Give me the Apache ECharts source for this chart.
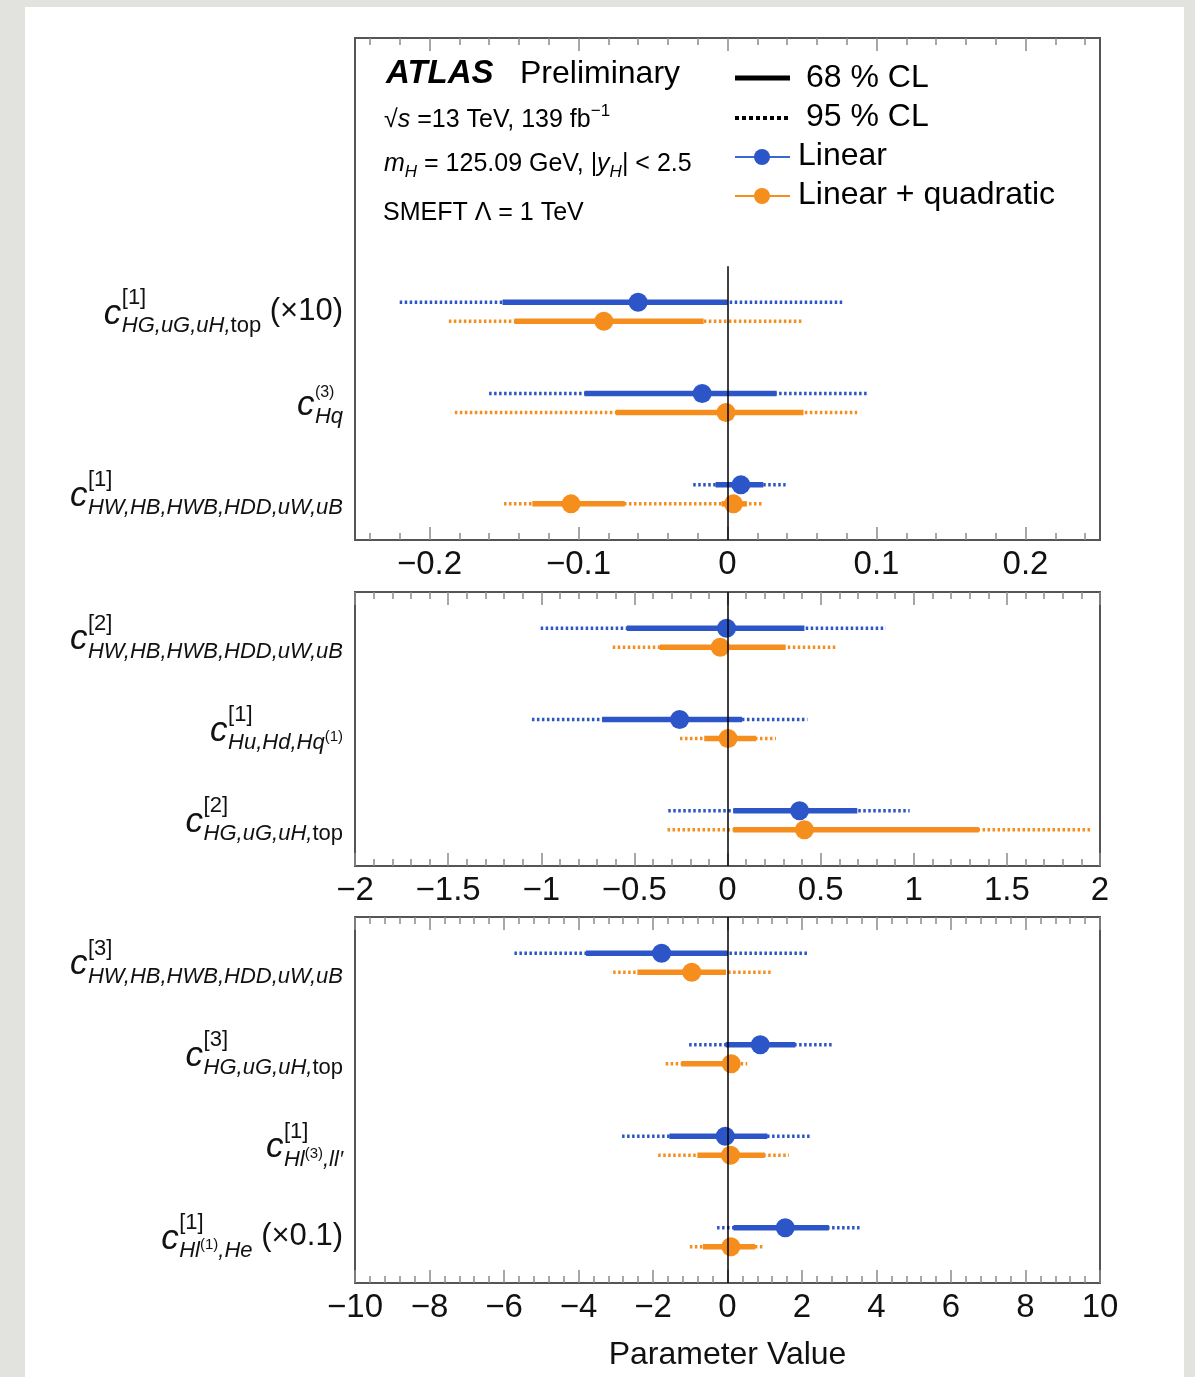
<!DOCTYPE html>
<html>
<head>
<meta charset="utf-8">
<script src="https://cdn.jsdelivr.net/npm/echarts@6/dist/echarts.min.js"></script>
<style>
html, body { margin: 0; padding: 0; }
body { width: 1195px; height: 1377px; background: #e2e3df; position: relative; overflow: hidden; }
#sheet { position: absolute; left: 25px; top: 7px; width: 1159px; height: 1370px; background: #fff; }
#chart { position: absolute; left: 0; top: 0; width: 1195px; height: 1377px; }
</style>
</head>
<body>
<div id="sheet"></div>
<div id="chart"></div>
<script>
const FONT = "'Liberation Sans', Arial, sans-serif";
const BLUE = '#2c56c7';
const ORANGE = '#f68e1e';
const TICK = '#8a8a8a';

//--------------------Panel 1 data--------------------
const p1Labels = [
    '{sp| }{sup|[1]}\n{c|c}{sub|HG,uG,uH,}{subr|top}{x| (×10)}',
    '{sp| }{supS|(3)}\n{c|c}{sub|Hq}',
    '{sp| }{sup|[1]}\n{c|c}{sub|HW,HB,HWB,HDD,uW,uB}'
];
const p1TickLabels = [-0.2, -0.1, 0, 0.1, 0.2];
const p1LinBest = [-0.060, -0.017, 0.009];
const p1Lin68 = [[-0.151, 0.000], [-0.096, 0.033], [-0.008, 0.024]];
const p1Lin95 = [[-0.220, 0.078], [-0.160, 0.095], [-0.023, 0.039]];
const p1QuadBest = [-0.083, -0.001, -0.105];
const p1Quad68 = [[-0.143, -0.016], [-0.075, 0.051], [-0.131, -0.069]];
const p1Quad95 = [[-0.187, 0.050], [-0.183, 0.087], [-0.150, 0.024]];
// second minimum of the quadratic fit (row 2)
const p1QuadSecondRow = [2];
const p1QuadSecondBest = [0.004];
const p1QuadSecond68 = [[-0.004, 0.013]];

//--------------------Panel 2 data--------------------
const p2Labels = [
    '{sp| }{sup|[2]}\n{c|c}{sub|HW,HB,HWB,HDD,uW,uB}',
    '{sp| }{sup|[1]}\n{c|c}{sub|Hu,Hd,Hq}{subsup|(1)}',
    '{sp| }{sup|[2]}\n{c|c}{sub|HG,uG,uH,}{subr|top}'
];
const p2TickLabels = [-2, -1.5, -1, -0.5, 0, 0.5, 1, 1.5, 2];
const p2LinBest = [-0.005, -0.257, 0.387];
const p2Lin68 = [[-0.541, 0.413], [-0.673, 0.078], [0.031, 0.697]];
const p2Lin95 = [[-1.003, 0.850], [-1.050, 0.429], [-0.318, 0.978]];
const p2QuadBest = [-0.039, 0.003, 0.413];
const p2Quad68 = [[-0.364, 0.312], [-0.125, 0.153], [0.031, 1.350]];
const p2Quad95 = [[-0.616, 0.585], [-0.255, 0.260], [-0.322, 1.956]];

//--------------------Panel 3 data--------------------
const p3Labels = [
    '{sp| }{sup|[3]}\n{c|c}{sub|HW,HB,HWB,HDD,uW,uB}',
    '{sp| }{sup|[3]}\n{c|c}{sub|HG,uG,uH,}{subr|top}',
    '{sp| }{sup|[1]}\n{c|c}{sub|Hl}{subsup|(3)}{sub|,ll′}',
    '{sp| }{sup|[1]}\n{c|c}{sub|Hl}{subsup|(1)}{sub|,He}{x| (×0.1)}'
];
const p3TickLabels = [-10, -8, -6, -4, -2, 0, 2, 4, 6, 8, 10];
const p3LinBest = [-1.77, 0.88, -0.06, 1.55];
const p3Lin68 = [[-3.80, 0.01], [-0.05, 1.82], [-1.56, 1.07], [0.16, 2.72]];
const p3Lin95 = [[-5.72, 2.15], [-1.03, 2.80], [-2.83, 2.21], [-0.28, 3.60]];
const p3QuadBest = [-0.96, 0.10, 0.08, 0.09];
const p3Quad68 = [[-2.42, -0.04], [-1.24, 0.27], [-0.81, 1.00], [-0.66, 0.74]];
const p3Quad95 = [[-3.07, 1.16], [-1.66, 0.53], [-1.86, 1.65], [-1.01, 0.97]];

//--------------------Layout--------------------
let chart_dom = document.getElementById('chart');
let chart = echarts.init(chart_dom, null, {renderer: 'canvas'});

let grid_left = 355;
let grid_width = 745;
let grids = [
    {left: grid_left, top: 38, width: grid_width, height: 502},
    {left: grid_left, top: 592, width: grid_width, height: 274},
    {left: grid_left, top: 917, width: grid_width, height: 366}
];
let x_ranges = [[-0.25, 0.25], [-2, 2], [-10, 10]];
let x_minor = [[-0.24, 0.24, 0.02], [-2, 2, 0.1], [-10, 10, 0.4]];
let x_labels = [p1TickLabels, p2TickLabels, p3TickLabels];
let y_ranges = [[-3, 2.5], [-0.5, 2.5], [-0.5, 3.5]];
let y_labels = [p1Labels, p2Labels, p3Labels];
// vertical zero line extent (in row units)
let zero_line = [[-0.5, 2.5], [-0.5, 2.5], [-0.5, 3.5]];

function minorValues(from, to, step, majors) {
    let out = [];
    let n = Math.round((to - from) / step);
    for (let i = 0; i <= n; i++) {
        let v = +(from + i * step).toFixed(6);
        if (majors.some(m => Math.abs(m - v) < step / 10)) continue;
        out.push(v);
    }
    return out;
}

function tickText(v) {
    return String(v).replace('-', '\u2212');
}

//--------------------Axes--------------------
let xAxes = [];
grids.forEach(function (g, gi) {
    let majors = x_labels[gi];
    let minors = minorValues(x_minor[gi][0], x_minor[gi][1], x_minor[gi][2], majors)
        .filter(v => v > x_ranges[gi][0] && v < x_ranges[gi][1]);
    let base = {
        type: 'value', gridIndex: gi, min: x_ranges[gi][0], max: x_ranges[gi][1],
        axisLine: {show: false, onZero: false},
        splitLine: {show: false},
        axisLabel: {show: false}
    };
    let majorTick = {show: true, inside: true, length: 13, customValues: majors, lineStyle: {color: TICK, width: 1.5}};
    let minorTick = {show: true, inside: true, length: 7, customValues: minors, lineStyle: {color: TICK, width: 1.5}};
    let bottom = Object.assign({}, base, {
        position: 'bottom',
        axisTick: majorTick,
        axisLabel: {
            show: true, customValues: majors, formatter: tickText,
            fontFamily: FONT, fontSize: 33, color: '#111', margin: 8
        }
    });
    if (gi === 2) {
        bottom.name = 'Parameter Value';
        bottom.nameLocation = 'middle';
        bottom.nameGap = 56;
        bottom.nameTextStyle = {fontFamily: FONT, fontSize: 32, color: '#111'};
    }
    xAxes.push(bottom);
    xAxes.push(Object.assign({}, base, {position: 'bottom', axisTick: minorTick}));
    xAxes.push(Object.assign({}, base, {position: 'top', axisTick: majorTick}));
    xAxes.push(Object.assign({}, base, {position: 'top', axisTick: minorTick}));
});

let label_rich = {
    sp: {fontFamily: FONT, fontSize: 20, width: 18, height: 16, lineHeight: 16, align: 'left'},
    sup: {fontFamily: FONT, fontSize: 22, color: '#111', height: 16, lineHeight: 16, align: 'left'},
    supS: {fontFamily: FONT, fontSize: 16, color: '#111', height: 8, lineHeight: 16, verticalAlign: 'bottom', align: 'left'},
    c: {fontFamily: FONT, fontSize: 35, fontStyle: 'italic', color: '#111', width: 18, height: 16, lineHeight: 16, verticalAlign: 'top', align: 'left'},
    sub: {fontFamily: FONT, fontSize: 22, fontStyle: 'italic', color: '#111', height: 40, lineHeight: 40, verticalAlign: 'top', align: 'left'},
    subr: {fontFamily: FONT, fontSize: 22, color: '#111', height: 40, lineHeight: 40, verticalAlign: 'top', align: 'left'},
    subsup: {fontFamily: FONT, fontSize: 15, color: '#111', height: 28, lineHeight: 28, verticalAlign: 'top', align: 'left'},
    x: {fontFamily: FONT, fontSize: 31, color: '#111', height: 11, lineHeight: 11, verticalAlign: 'top', align: 'left'}
};

let yAxes = grids.map(function (g, gi) {
    let labels = y_labels[gi];
    return {
        type: 'value', gridIndex: gi, inverse: true,
        min: y_ranges[gi][0], max: y_ranges[gi][1],
        axisLine: {show: false, onZero: false},
        axisTick: {show: false},
        splitLine: {show: false},
        axisLabel: {
            show: true,
            customValues: labels.map((l, i) => i),
            formatter: function (v) { return labels[Math.round(v)] || ''; },
            rich: label_rich,
            margin: 12,
            padding: [12, 0, 0, 0]
        }
    };
});

//---------------------Series---------------------
function buildItems(best, ci68, ci95) {
    return best.map((b, i) => [b, i, ci95[i][0], ci95[i][1], ci68[i][0], ci68[i][1]]);
}

function makeRender(dy, color) {
    return function (params, api) {
        let row = api.value(1);
        let best = api.value(0);
        let lo95 = api.value(2), hi95 = api.value(3);
        let lo68 = api.value(4), hi68 = api.value(5);
        let children = [];
        if (isFinite(lo95) && isFinite(hi95)) {
            let a = api.coord([lo95, row]), b = api.coord([hi95, row]);
            children.push({
                type: 'line',
                shape: {x1: a[0], y1: a[1] + dy, x2: b[0], y2: b[1] + dy},
                style: {stroke: color, lineWidth: 3.5, lineDash: [2.5, 2.5]}
            });
        }
        if (isFinite(lo68) && isFinite(hi68)) {
            let a = api.coord([lo68, row]), b = api.coord([hi68, row]);
            children.push({
                type: 'line',
                shape: {x1: a[0], y1: a[1] + dy, x2: b[0], y2: b[1] + dy},
                style: {stroke: color, lineWidth: 5.5}
            });
        }
        let p = api.coord([best, row]);
        children.push({type: 'circle', shape: {cx: p[0], cy: p[1] + dy, r: 9.5}, style: {fill: color}});
        return {type: 'group', children: children};
    };
}

let lin_sets = [
    buildItems(p1LinBest, p1Lin68, p1Lin95),
    buildItems(p2LinBest, p2Lin68, p2Lin95),
    buildItems(p3LinBest, p3Lin68, p3Lin95)
];
let quad_sets = [
    buildItems(p1QuadBest, p1Quad68, p1Quad95),
    buildItems(p2QuadBest, p2Quad68, p2Quad95),
    buildItems(p3QuadBest, p3Quad68, p3Quad95)
];
p1QuadSecondRow.forEach(function (r, i) {
    quad_sets[0].push([p1QuadSecondBest[i], r, null, null, p1QuadSecond68[i][0], p1QuadSecond68[i][1]]);
});

let series = [];
grids.forEach(function (g, gi) {
    series.push({
        type: 'scatter', xAxisIndex: 4 * gi, yAxisIndex: gi, data: [], silent: true, z: 1,
        markLine: {
            silent: true, symbol: ['none', 'none'], label: {show: false},
            lineStyle: {color: '#000', width: 1.5, type: 'solid'},
            emphasis: {disabled: true},
            data: [[{coord: [0, zero_line[gi][0]]}, {coord: [0, zero_line[gi][1]]}]]
        }
    });
    series.push({
        type: 'custom', name: 'Linear', xAxisIndex: 4 * gi, yAxisIndex: gi, z: 3,
        encode: {x: 0, y: 1}, renderItem: makeRender(-9.5, BLUE), data: lin_sets[gi], silent: true
    });
    series.push({
        type: 'custom', name: 'Linear + quadratic', xAxisIndex: 4 * gi, yAxisIndex: gi, z: 3,
        encode: {x: 0, y: 1}, renderItem: makeRender(9.5, ORANGE), data: quad_sets[gi], silent: true
    });
});

//--------------------Header and legend--------------------
let head_rich = {
    n: {fontFamily: FONT, fontSize: 25, fill: '#000', height: 30, lineHeight: 30},
    i: {fontFamily: FONT, fontSize: 25, fontStyle: 'italic', fill: '#000', height: 30, lineHeight: 30},
    up: {fontFamily: FONT, fontSize: 17, fill: '#000', height: 12, lineHeight: 12, verticalAlign: 'top'},
    dn: {fontFamily: FONT, fontSize: 17, fontStyle: 'italic', fill: '#000', height: 14, lineHeight: 14, verticalAlign: 'bottom'}
};
function headText(x, y, text, extra) {
    return {
        type: 'text', x: x, y: y, silent: true,
        style: Object.assign({text: text, fontFamily: FONT, fontSize: 32, fill: '#000', verticalAlign: 'middle'}, extra || {})
    };
}
let graphics = [
    headText(386, 74, 'ATLAS', {fontStyle: 'italic', fontWeight: 'bold', fontSize: 33}),
    headText(520, 74, 'Preliminary'),
    headText(384, 120, '{n|\u221A}{i|s}{n| =13 TeV, 139 fb}{up|\u22121}', {rich: head_rich}),
    headText(384, 164, '{i|m}{dn|H}{n| = 125.09 GeV, |}{i|y}{dn|H}{n|| < 2.5}', {rich: head_rich}),
    headText(383, 213, '{n|SMEFT \u039B = 1 TeV}', {rich: head_rich}),
    // legend
    {type: 'line', silent: true, shape: {x1: 735, y1: 78, x2: 790, y2: 78}, style: {stroke: '#000', lineWidth: 5}},
    {type: 'line', silent: true, shape: {x1: 735, y1: 118, x2: 790, y2: 118}, style: {stroke: '#000', lineWidth: 4, lineDash: [4, 3]}},
    {type: 'line', silent: true, shape: {x1: 735, y1: 157, x2: 790, y2: 157}, style: {stroke: '#3b66d6', lineWidth: 2}},
    {type: 'circle', silent: true, shape: {cx: 762, cy: 157, r: 8}, style: {fill: BLUE}},
    {type: 'line', silent: true, shape: {x1: 735, y1: 196, x2: 790, y2: 196}, style: {stroke: ORANGE, lineWidth: 2}},
    {type: 'circle', silent: true, shape: {cx: 762, cy: 196, r: 8}, style: {fill: ORANGE}},
    headText(806, 78, '68 % CL'),
    headText(806, 117, '95 % CL'),
    headText(798, 156, 'Linear'),
    headText(798, 195, 'Linear + quadratic')
];

//------------------Generate Graph------------------
let chart_option = {
    animation: false,
    backgroundColor: 'transparent',
    textStyle: {fontFamily: FONT},
    grid: grids.map(g => Object.assign({show: true, borderColor: '#555', borderWidth: 2, backgroundColor: 'transparent'}, g)),
    xAxis: xAxes,
    yAxis: yAxes,
    series: series,
    graphic: graphics
};
chart.setOption(chart_option, true);
</script>
</body>
</html>
